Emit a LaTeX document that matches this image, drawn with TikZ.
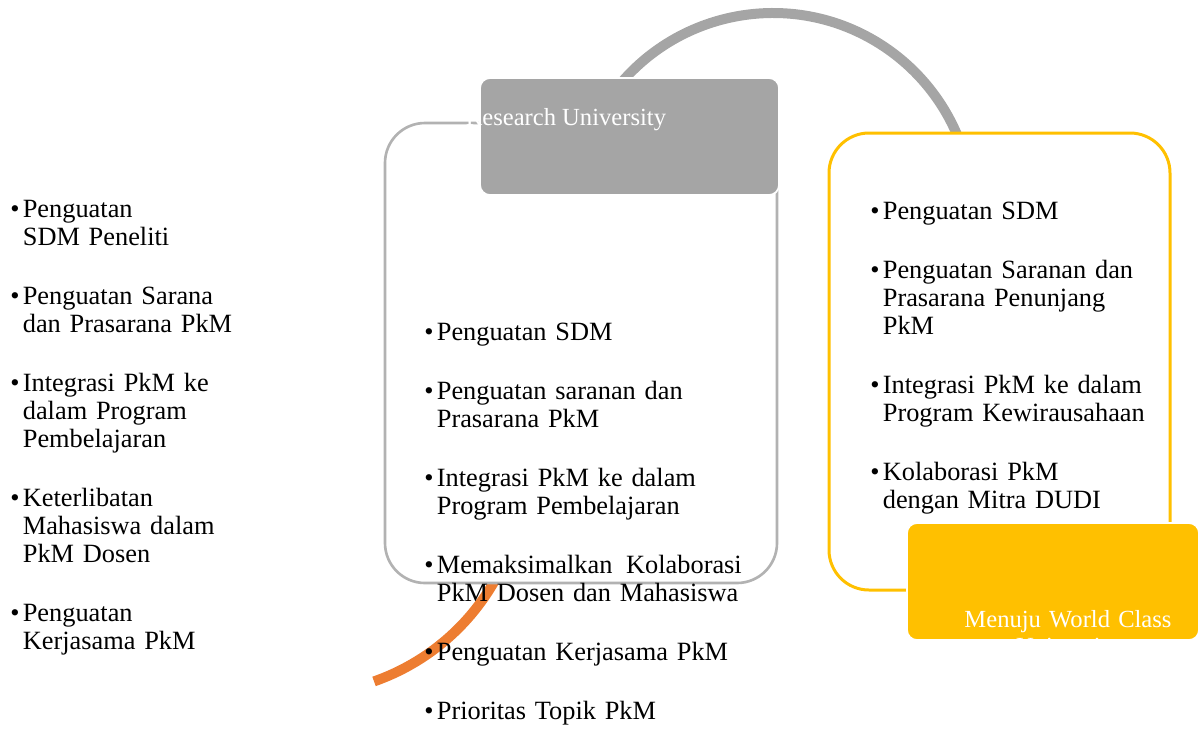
\documentclass[tikz,border=0pt]{standalone}
\usepackage{fontspec}
\setmainfont{Liberation Serif}
\definecolor{ringgray}{HTML}{A5A5A5}
\definecolor{ringorange}{HTML}{ED7D31}
\definecolor{ringgold}{HTML}{FFC000}
\newlength{\bulletwd}
\setlength{\bulletwd}{0.25cm}
\newcommand{\bitem}[1]{\hangindent=\bulletwd\hangafter=1\noindent\makebox[\bulletwd][l]{\textbullet}#1\par}
\tikzset{
  itemlist/.style={anchor=base west,inner sep=0pt,text width=#1,align=left,
    font=\fontsize{15}{16}\selectfont,
    execute at begin node=\setlength{\parskip}{17.6pt}},
  titletext/.style={inner sep=0pt,text=white,font=\fontsize{14}{15.9}\selectfont}
}
\begin{document}
\begin{tikzpicture}[x=0.02cm,y=-0.02cm]
        \useasboundingbox (0,0) rectangle (1200,728);
        \coordinate (cgray) at (773,213);
        \coordinate (corange) at (300,470);
        % arcs behind the boxes
        \draw[ringgray,line width=0.2cm] (cgray) ++(-145:200) arc[start angle=-145,end angle=-15,radius=200];
        \draw[ringorange,line width=0.2cm] (corange) ++(70.7:224) arc[start angle=70.7,end angle=28,radius=224];
        % outline boxes
        \draw[ringgray!85,line width=1.5pt,fill=white,rounded corners=0.8cm] (385,123) rectangle (777,583);
        \draw[ringgold,line width=1.7pt,fill=white,rounded corners=0.8cm] (829,133) rectangle (1170,590);
        % title boxes
        \draw[white,line width=1pt,fill=ringgray,rounded corners=0.2cm] (480,78) rectangle (779,195);
        \node[titletext,anchor=base] (research) at (566,125) {Research University};
        \begin{scope}
          \clip[rounded corners=0.2cm] (907,523) rectangle (1199,640);
          \fill[ringgold] (907,523) rectangle (1199,640);
          \node[titletext,anchor=base,text width=6cm,align=center] (worldclass) at (1068,627) {Menuju World Class\\University};
        \end{scope}
        \draw[white,line width=1pt,rounded corners=0.2cm] (907,523) rectangle (1199,640);
        % bullet lists
        \node[itemlist=5cm] (leftlist) at (10,217) {%
          \bitem{Penguatan\newline SDM Peneliti}
          \bitem{Penguatan Sarana\newline dan Prasarana PkM}
          \bitem{Integrasi PkM ke\newline dalam Program\newline Pembelajaran}
          \bitem{Keterlibatan\newline Mahasiswa dalam\newline PkM Dosen}
          \bitem{Penguatan\newline Kerjasama PkM}};
        \node[itemlist=6.35cm] (midlist) at (424,340) {%
          \bitem{Penguatan SDM}
          \bitem{Penguatan saranan dan\newline Prasarana PkM}
          \bitem{Integrasi PkM ke dalam\newline Program Pembelajaran}
          \bitem{Memaksimalkan\hfill Kolaborasi\newline PkM Dosen dan Mahasiswa}
          \bitem{Penguatan Kerjasama PkM}
          \bitem{Prioritas Topik PkM}};
        \node[itemlist=6cm] (rightlist) at (870,219) {%
          \bitem{Penguatan SDM}
          \bitem{Penguatan Saranan dan\newline Prasarana Penunjang\newline PkM}
          \bitem{Integrasi PkM ke dalam\newline Program Kewirausahaan}
          \bitem{Kolaborasi PkM\newline dengan Mitra DUDI}};
    \end{tikzpicture}
\end{document}
